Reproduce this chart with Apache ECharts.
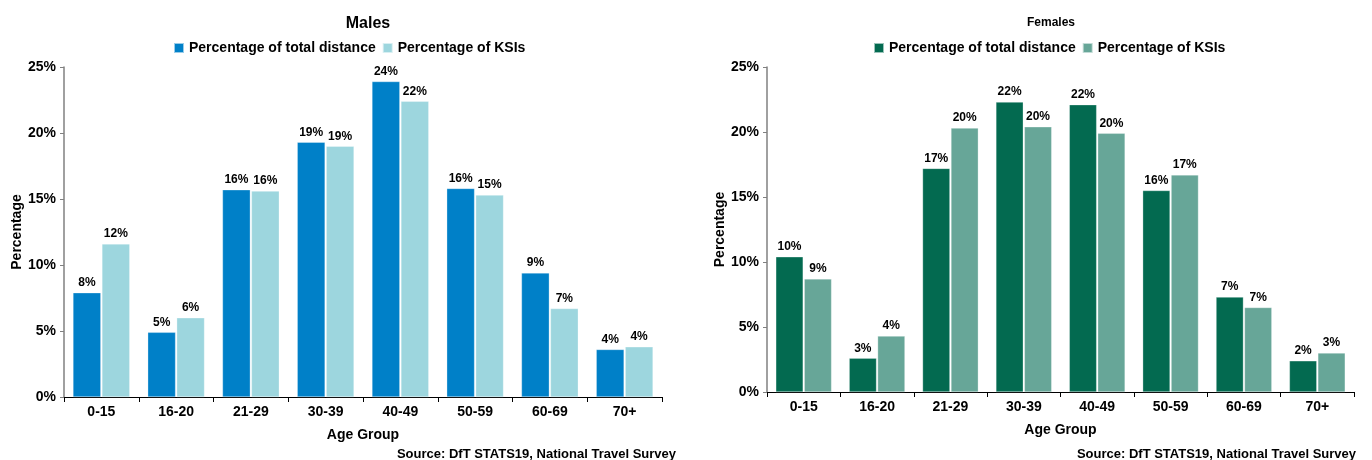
<!DOCTYPE html>
<html><head><meta charset="utf-8">
<script src="https://cdn.jsdelivr.net/npm/echarts@6/dist/echarts.min.js"></script>
<style>html,body{margin:0;padding:0;background:#fff}#c{width:1372px;height:460px}</style>
</head><body><div id="c"></div>
<script>
const categories = ['0-15','16-20','21-29','30-39','40-49','50-59','60-69','70+'];
const maleDistance = [7.9, 4.9, 15.7, 19.3, 23.9, 15.8, 9.4, 3.6];
const maleKSI = [11.6, 6.0, 15.6, 19.0, 22.4, 15.3, 6.7, 3.8];
const femaleDistance = [10.4, 2.6, 17.2, 22.3, 22.1, 15.5, 7.3, 2.4];
const femaleKSI = [8.7, 4.3, 20.3, 20.4, 19.9, 16.7, 6.5, 3.0];
const yTicks = [0, 5, 10, 15, 20, 25];
const seriesNames = ['Percentage of total distance', 'Percentage of KSIs'];

const FONT = '"Liberation Sans", Arial, sans-serif';
const colors = { mD: '#0080C8', mK: '#9DD6DE', fD: '#036A50', fK: '#67A698' };

function yAxis(gi) {
  return {
    gridIndex: gi, type: 'value', min: yTicks[0], max: yTicks[yTicks.length-1], interval: 5,
    axisLine: { show: true, lineStyle: { color: '#808080', width: 1.5 } },
    axisTick: { show: true, length: 4, lineStyle: { color: '#808080' } },
    splitLine: { show: false },
    axisLabel: { formatter: v => v + '%', fontFamily: FONT, fontWeight: 'bold', fontSize: 14, color: '#000', margin: 8 },
    name: 'Percentage', nameLocation: 'middle', nameGap: 38, nameRotate: 90,
    nameTextStyle: { fontFamily: FONT, fontWeight: 'bold', fontSize: 14, color: '#000' }
  };
}
function xAxis(gi) {
  return {
    gridIndex: gi, type: 'category', data: categories,
    axisLine: { lineStyle: { color: '#000', width: 1.2 } },
    axisTick: { show: true, length: 5, alignWithLabel: false, lineStyle: { color: '#000' } },
    axisLabel: { fontFamily: FONT, fontWeight: 'bold', fontSize: 14, color: '#000', margin: 8 },
    name: 'Age Group', nameLocation: 'middle', nameGap: 31,
    nameTextStyle: { fontFamily: FONT, fontWeight: 'bold', fontSize: 14, color: '#000' }
  };
}
function bar(name, data, gi, color) {
  return {
    type: 'bar', name, data, xAxisIndex: gi, yAxisIndex: gi,
    barCategoryGap: '24%', barGap: '4%',
    itemStyle: { color, borderColor: 'rgba(255,255,255,0.6)', borderWidth: 0.5 },
    label: { show: true, position: 'top', distance: 4, formatter: p => Math.round(p.value) + '%',
      fontFamily: FONT, fontWeight: 'bold', fontSize: 12, color: '#000' }
  };
}
const legendText = { fontFamily: FONT, fontWeight: 'bold', fontSize: 14, color: '#000' };
const chart = echarts.init(document.getElementById('c'));
chart.setOption({
  animation: false,
  title: [
    { text: 'Males', left: 363, top: 11, textAlign: 'center', textStyle: { fontFamily: FONT, fontWeight: 'bold', fontSize: 16, color: '#000' } },
    { text: 'Females', left: 1046, top: 12, textAlign: 'center', textStyle: { fontFamily: FONT, fontWeight: 'bold', fontSize: 12, color: '#000' } },
    { text: 'Source: DfT STATS19, National Travel Survey', right: 691, top: 443, textStyle: { fontFamily: FONT, fontWeight: 'bold', fontSize: 13, color: '#000' } },
    { text: 'Source: DfT STATS19, National Travel Survey', right: 11, top: 443, textStyle: { fontFamily: FONT, fontWeight: 'bold', fontSize: 13, color: '#000' } }
  ],
  legend: [
    { left: 168, top: 36, itemWidth: 10, itemHeight: 10, itemGap: 6, icon: 'rect', textStyle: legendText,
      data: [{ name: seriesNames[0], itemStyle: { color: colors.mD } }, { name: seriesNames[1], itemStyle: { color: colors.mK } }] },
    { left: 868, top: 36, itemWidth: 10, itemHeight: 10, itemGap: 6, icon: 'rect', textStyle: legendText,
      data: [{ name: seriesNames[0], itemStyle: { color: colors.fD } }, { name: seriesNames[1], itemStyle: { color: colors.fK } }] }
  ],
  grid: [
    { left: 64, right: 710, top: 67, bottom: 63 },
    { left: 767, right: 18, top: 67, bottom: 68 }
  ],
  xAxis: [xAxis(0), xAxis(1)],
  yAxis: [yAxis(0), yAxis(1)],
  series: [
    bar(seriesNames[0], maleDistance, 0, colors.mD),
    bar(seriesNames[1], maleKSI, 0, colors.mK),
    bar(seriesNames[0], femaleDistance, 1, colors.fD),
    bar(seriesNames[1], femaleKSI, 1, colors.fK)
  ]
});
</script></body></html>
